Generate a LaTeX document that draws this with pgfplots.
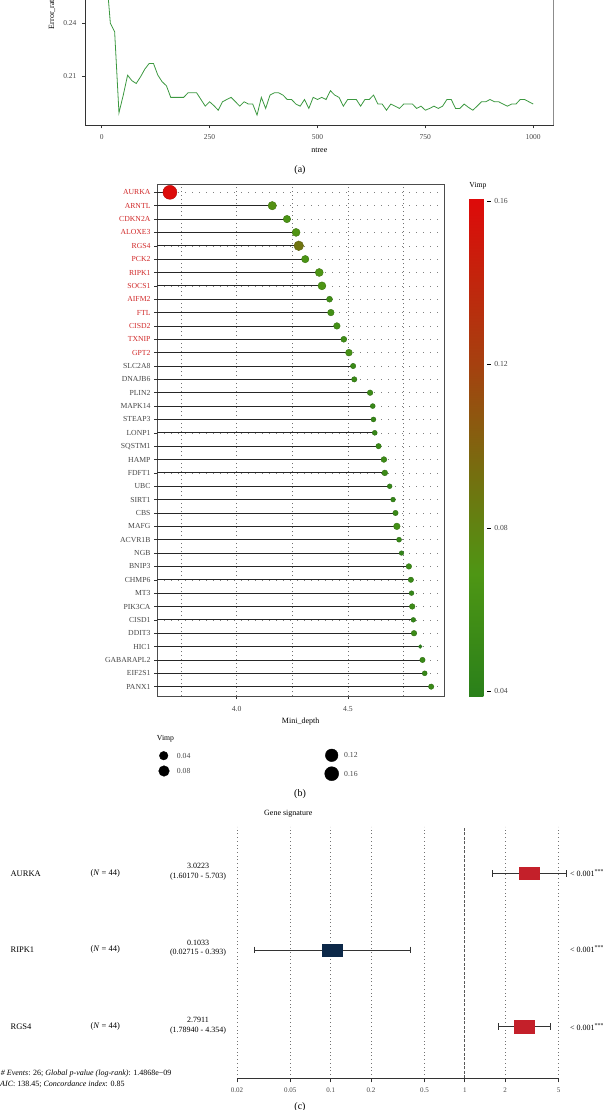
\documentclass[border=0pt]{standalone}
\usepackage{fontspec}
\setmainfont{Liberation Serif}
\usepackage{pgfplots}
\pgfplotsset{compat=1.18}
\usepackage{pgfplotstable}
\usetikzlibrary{calc}
\definecolor{lgreen}{RGB}{60,152,64}
\definecolor{genered}{RGB}{208,40,40}
\definecolor{boxred}{RGB}{196,32,42}
\definecolor{boxnavy}{RGB}{12,40,72}
\definecolor{tickgray}{RGB}{70,70,70}
\newcommand{\R}[1]{\textcolor{genered}{#1}}
\newcommand\fsa{\fontsize{7.5}{9}\selectfont}
\newcommand\fsb{\fontsize{8}{9.6}\selectfont}
\newcommand\fsc{\fontsize{10}{12}\selectfont}
\newcommand\fsd{\fontsize{7.7}{9}\selectfont}
\newcommand\fse{\fontsize{7}{8.4}\selectfont}
\newcommand\fsf{\fontsize{8.5}{10}\selectfont}
\newcommand\fsg{\fontsize{8}{9.5}\selectfont}
\pgfdeclareplotmark{fbox}{\pgfpathrectangle{\pgfpoint{-10pt}{-6.2pt}}{\pgfpoint{20pt}{12.4pt}}\pgfusepathqfillstroke}
\pgfplotsset{every axis/.append style={/pgf/number format/assume math mode=true, /pgf/number format/1000 sep={}}}

\pgfplotstableread{
y depth vimp r
38 3.701 0.160 7.0
37 4.160 0.072 4.2
36 4.226 0.066 3.7
35 4.267 0.070 4.0
34 4.279 0.090 4.8
33 4.308 0.066 3.7
32 4.371 0.068 4.0
31 4.383 0.068 4.0
30 4.417 0.058 3.0
29 4.423 0.060 3.3
28 4.450 0.060 3.3
27 4.481 0.056 3.0
26 4.504 0.062 3.4
25 4.523 0.052 2.7
24 4.528 0.052 2.7
23 4.599 0.054 2.8
22 4.611 0.050 2.5
21 4.614 0.050 2.5
20 4.620 0.050 2.5
19 4.637 0.052 2.7
18 4.661 0.054 2.9
17 4.665 0.054 2.9
16 4.687 0.048 2.4
15 4.702 0.048 2.4
14 4.713 0.052 2.7
13 4.719 0.060 3.3
12 4.729 0.050 2.5
11 4.740 0.046 2.3
10 4.773 0.054 2.8
9 4.782 0.052 2.7
8 4.785 0.048 2.4
7 4.788 0.054 2.8
6 4.793 0.048 2.4
5 4.796 0.054 2.8
4 4.824 0.040 1.9
3 4.834 0.052 2.7
2 4.844 0.050 2.5
1 4.873 0.052 2.7
}\tabB

\begin{document}
\begin{tikzpicture}
\useasboundingbox (0,0) rectangle (602pt,-1110pt);
\clip (0,0) rectangle (602pt,-1110pt);

% ---------------- panel (a)
\begin{axis}[at={(85pt,-125.3pt)}, anchor=south west, scale only axis,
 width=468.7pt, height=155.3pt,
 xmin=-38.7, xmax=1047.5, ymin=0.1818, ymax=0.2702, clip=false,
 axis x line*=bottom, axis y line*=left, axis line style={-, black!80, line width=0.7pt},
 xtick={0,250,500,750,1000}, ytick={0.21,0.24},
 yticklabel style={/pgf/number format/fixed, /pgf/number format/precision=2, /pgf/number format/fixed zerofill, xshift=-2pt},
 xticklabel style={yshift=-2.5pt},
 tick align=outside, major tick length=3pt, tick style={black!80, line width=0.5pt},
 tick label style={font=\fsa, text=tickgray},
 xlabel={ntree}, xlabel style={at={(axis description cs:0.5,0)}, anchor=center, yshift=-24.7pt, font=\fsb},
]
\addplot[lgreen, line width=0.8pt] coordinates {
(1,0.300) (10,0.270) (20,0.240) (30,0.235) (40,0.1889) (50,0.1990) (60,0.2103) (70,0.2072)
(80,0.2056) (90,0.2094) (100,0.2138) (110,0.2170) (120,0.2170) (130,0.2104) (140,0.2066)
(150,0.2043) (160,0.1977) (170,0.1977) (180,0.1977) (190,0.1977) (200,0.2003) (210,0.2003)
(220,0.2003) (230,0.1965) (240,0.1927) (250,0.1952) (260,0.1930) (270,0.1904) (280,0.1952)
(290,0.1965) (300,0.1977) (310,0.1952) (320,0.1927) (330,0.1952) (340,0.1939) (350,0.1939)
(360,0.1876) (370,0.1977) (380,0.1914) (390,0.1990) (400,0.2003) (410,0.2003) (420,0.1990)
(430,0.1965) (440,0.1965) (450,0.1939) (460,0.1927) (470,0.1965) (480,0.1914) (490,0.1977)
(500,0.1965) (510,0.1977) (520,0.1965) (530,0.2015) (540,0.1990) (550,0.1977) (560,0.1927)
(570,0.1965) (580,0.1965) (590,0.1965) (600,0.1927) (610,0.1965) (620,0.1965) (630,0.1990)
(640,0.1939) (650,0.1939) (660,0.1904) (670,0.1939) (680,0.1927) (690,0.1914) (700,0.1939)
(710,0.1939) (720,0.1939) (730,0.1914) (740,0.1927) (750,0.1904) (760,0.1914) (770,0.1927)
(780,0.1914) (790,0.1927) (800,0.1965) (810,0.1965) (820,0.1914) (830,0.1914) (840,0.1939)
(850,0.1920) (860,0.1904) (870,0.1927) (880,0.1952) (890,0.1952) (900,0.1965) (910,0.1952)
(920,0.1952) (930,0.1939) (940,0.1927) (950,0.1939) (960,0.1939) (970,0.1965) (980,0.1965)
(990,0.1952) (1000,0.1939)};
\draw[black!45, line width=1.4pt] (rel axis cs:1,0) -- (rel axis cs:1,1);
\end{axis}
\node[rotate=90, anchor=west, font=\fsb, inner sep=0pt] at (52pt,-29.3pt) {Error\_rate};
\node[font=\fsc] at (300pt,-170pt) {(a)};

% ---------------- panel (b)
\begin{axis}[at={(157pt,-696pt)}, anchor=south west, scale only axis,
 width=287.3pt, height=511.7pt,
 xmin=3.643, xmax=4.932, ymin=0.3, ymax=38.6,
 xtick={4.0,4.5}, minor xtick={3.75,4.25,4.75},
 xticklabel style={/pgf/number format/fixed, /pgf/number format/fixed zerofill, /pgf/number format/precision=1, yshift=-4pt},
 ytick={1,...,38},
 yticklabels={PANX1,EIF2S1,GABARAPL2,HIC1,DDIT3,CISD1,PIK3CA,MT3,CHMP6,BNIP3,NGB,ACVR1B,MAFG,CBS,SIRT1,UBC,FDFT1,HAMP,SQSTM1,LONP1,STEAP3,MAPK14,PLIN2,DNAJB6,SLC2A8,\R{GPT2},\R{TXNIP},\R{CISD2},\R{FTL},\R{AIFM2},\R{SOCS1},\R{RIPK1},\R{PCK2},\R{RGS4},\R{ALOXE3},\R{CDKN2A},\R{ARNTL},\R{AURKA}},
 xmajorgrids, xminorgrids, ymajorgrids,
 x grid style={black!55, line width=0.5pt, dash pattern=on 0.7pt off 3.3pt},
 y grid style={black!50, line width=0.5pt, dash pattern=on 0.7pt off 6.3pt},
 tick align=outside, major tick length=3pt, minor tick length=0pt,
 xtick pos=bottom, ytick pos=left,
 tick style={black!80, line width=0.5pt},
 axis line style={black!70, line width=0.8pt},
 tick label style={font=\fsd, text=tickgray},
 xlabel={Mini\_depth}, xlabel style={at={(axis description cs:0.5,0)}, anchor=center, yshift=-25.7pt, font=\fsb},
 colormap={vimp}{rgb255(0)=(42,128,26) rgb255(30)=(78,150,20) rgb255(55)=(118,110,15) rgb255(81)=(165,65,15) rgb255(122)=(222,10,10)},
 point meta min=0.0388, point meta max=0.1607,
 colorbar,
 colorbar style={scale only axis, width=18pt, height=497.7pt,
   at={($(parent axis.north east)+(16.4pt,-14pt)$)}, anchor=north west,
   ytick={0.04,0.08,0.12,0.16}, xtick=\empty, ytick pos=right,
   yticklabel style={font=\fsd, text=tickgray, /pgf/number format/fixed, /pgf/number format/fixed zerofill, /pgf/number format/precision=2},
   tick align=outside, major tick length=3.5pt, ytick style={black, line width=0.5pt},
   axis line style={draw=none},
   title={Vimp}, title style={at={(0,1)}, anchor=south west, font=\fsd, inner sep=0pt, yshift=3pt}},
]
\addplot[scatter, only marks, mark=*, point meta=\thisrow{vimp},
  visualization depends on={\thisrow{r} \as \msize},
  scatter/@pre marker code/.append style={/tikz/mark size=\msize pt}]
  table[x=depth, y=y] {\tabB};
\addplot[xcomb, black!85, line width=0.8pt, mark=none] table[x=depth, y=y] {\tabB};
\end{axis}

% size legend of panel (b)
\begin{axis}[at={(0pt,-1110pt)}, anchor=south west, scale only axis, width=602pt, height=1110pt,
 xmin=0, xmax=602, ymin=-1110, ymax=0, hide axis, clip=false]
\addplot[only marks, mark=*, black, mark size=4.3pt] coordinates {(163.7,-755.7)};
\addplot[only marks, mark=*, black, mark size=5.3pt] coordinates {(164,-771)};
\addplot[only marks, mark=*, black, mark size=6.3pt] coordinates {(331.7,-755.3)};
\addplot[only marks, mark=*, black, mark size=7pt] coordinates {(331.7,-773.7)};
\end{axis}
\node[anchor=west, font=\fsd, inner sep=0pt] at (156.7pt,-739pt) {Vimp};
\node[anchor=west, font=\fsd, text=tickgray, inner sep=0pt] at (176.7pt,-755.7pt) {0.04};
\node[anchor=west, font=\fsd, text=tickgray, inner sep=0pt] at (176.7pt,-771pt) {0.08};
\node[anchor=west, font=\fsd, text=tickgray, inner sep=0pt] at (344pt,-755.3pt) {0.12};
\node[anchor=west, font=\fsd, text=tickgray, inner sep=0pt] at (344pt,-773.7pt) {0.16};
\node[font=\fsc] at (300pt,-794pt) {(b)};

% ---------------- panel (c)
\begin{axis}[at={(236.9pt,-1078.3pt)}, anchor=south west, scale only axis,
 width=321.6pt, height=251.6pt,
 xmode=log, xmin=0.02, xmax=5, ymin=0.327, ymax=3.608, clip=false,
 axis x line*=bottom, axis y line=none, axis line style={-, black!80, line width=0.8pt},
 xtick={0.02,0.05,0.1,0.2,0.5,2,5}, xticklabels={0.02,0.05,0.1,0.2,0.5,2,5},
 extra x ticks={1}, extra x tick labels={1},
 extra x tick style={grid style={black!65, line width=1pt, dash pattern=on 3pt off 1.5pt}},
 ytick=\empty,
 xmajorgrids, grid style={black!55, line width=0.5pt, dash pattern=on 0.7pt off 3pt},
 tick align=outside, major tick length=4pt, tick style={black!80, line width=0.6pt},
 tick label style={font=\fse, text=tickgray},
 xticklabel style={yshift=-2pt},
]
\addplot[only marks, mark=fbox, mark options={draw=boxred, fill=boxred}] coordinates {(3.0223,3) (2.7911,1)};
\addplot[only marks, mark=fbox, mark options={draw=boxnavy, fill=boxnavy}] coordinates {(0.1033,2)};
\addplot[black!80, line width=0.8pt, mark=|, mark size=3.3pt, mark options={solid, line width=0.8pt}] coordinates {(1.6017,3) (5.703,3)};
\addplot[black!80, line width=0.8pt, mark=|, mark size=3.3pt, mark options={solid, line width=0.8pt}] coordinates {(0.02715,2) (0.393,2)};
\addplot[black!80, line width=0.8pt, mark=|, mark size=3.3pt, mark options={solid, line width=0.8pt}] coordinates {(1.7894,1) (4.354,1)};
\end{axis}
\node[font=\fsg] at (288.3pt,-814pt) {Gene signature};
% rows
\node[anchor=west, font=\fsf, inner sep=0pt] at (10.4pt,-873.3pt) {AURKA};
\node[anchor=west, font=\fsf, inner sep=0pt] at (10.4pt,-949.3pt) {RIPK1};
\node[anchor=west, font=\fsf, inner sep=0pt] at (10.4pt,-1026.7pt) {RGS4};
\node[anchor=west, font=\fsf, inner sep=0pt] at (90.4pt,-873.3pt) {(\textit{N} = 44)};
\node[anchor=west, font=\fsf, inner sep=0pt] at (90.4pt,-949.3pt) {(\textit{N} = 44)};
\node[anchor=west, font=\fsf, inner sep=0pt] at (90.4pt,-1026.7pt) {(\textit{N} = 44)};
\node[font=\fsg, align=center, inner sep=0pt] at (198pt,-871.7pt) {3.0223\\(1.60170 - 5.703)};
\node[font=\fsg, align=center, inner sep=0pt] at (198pt,-948pt) {0.1033\\(0.02715 - 0.393)};
\node[font=\fsg, align=center, inner sep=0pt] at (198pt,-1025.7pt) {2.7911\\(1.78940 - 4.354)};
\node[anchor=west, font=\fsg, inner sep=0pt] at (570pt,-873.3pt) {< 0.001\textsuperscript{***}};
\node[anchor=west, font=\fsg, inner sep=0pt] at (570pt,-949.3pt) {< 0.001\textsuperscript{***}};
\node[anchor=west, font=\fsg, inner sep=0pt] at (570pt,-1026.7pt) {< 0.001\textsuperscript{***}};
\node[anchor=west, font=\fsg, inner sep=0pt] at (0.8pt,-1073.3pt) {\textit{\# Events}: 26; \textit{Global p-value (log-rank)}: 1.4868e−09};
\node[anchor=west, font=\fsg, inner sep=0pt] at (0pt,-1084pt) {\textit{AIC}: 138.45; \textit{Concordance index}: 0.85};
\node[font=\fsc] at (300pt,-1107pt) {(c)};
\end{tikzpicture}
\end{document}
